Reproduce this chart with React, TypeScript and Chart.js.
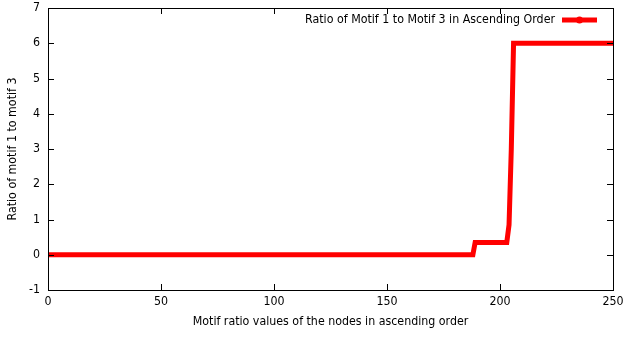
import React, { useEffect, useRef } from "react";
import { Chart, registerables } from "chart.js";

Chart.register(...registerables);

// Run-length description of the sorted ratios (value, number of nodes)
const runValues = [0, 0.35, 0.85, 3, 6];
const runLengths = [189, 15, 1, 1, 45];
const xTicks = [0, 50, 100, 150, 200, 250];
const yTicks = [-1, 0, 1, 2, 3, 4, 5, 6, 7];
const seriesLabel = "Ratio of Motif 1 to Motif 3 in Ascending Order";
const xTitle = "Motif ratio values of the nodes in ascending order";
const yTitle = "Ratio of motif 1 to motif 3";

const FONT = "'DejaVu Sans Condensed', 'DejaVu Sans', sans-serif";
const FS = 12.3;

function buildPoints() {
  const pts: { x: number; y: number }[] = [];
  let idx = 0;
  runValues.forEach((v, i) => {
    for (let k = 0; k < runLengths[i]; k++) {
      pts.push({ x: idx, y: v });
      idx++;
    }
  });
  return pts;
}

const framePlugin = {
  id: "frame",
  afterDraw(chart: any) {
    const { ctx, chartArea: a, scales } = chart;
    ctx.save();
    ctx.strokeStyle = "#000";
    ctx.lineWidth = 1;
    ctx.strokeRect(Math.round(a.left) + 0.5, Math.round(a.top) + 0.5, Math.round(a.right - a.left), Math.round(a.bottom - a.top));
    const tl = 6;
    ctx.beginPath();
    xTicks.forEach((t) => {
      const x = Math.round(scales.x.getPixelForValue(t)) + 0.5;
      ctx.moveTo(x, a.bottom);
      ctx.lineTo(x, a.bottom - tl);
      ctx.moveTo(x, a.top);
      ctx.lineTo(x, a.top + tl);
    });
    yTicks.forEach((t) => {
      const y = Math.round(scales.y.getPixelForValue(t)) + 0.5;
      ctx.moveTo(a.left, y);
      ctx.lineTo(a.left + tl, y);
      ctx.moveTo(a.right, y);
      ctx.lineTo(a.right - tl, y);
    });
    ctx.stroke();
    // legend
    ctx.font = `${FS}px ${FONT}`;
    ctx.fillStyle = "#000";
    ctx.textAlign = "right";
    ctx.textBaseline = "middle";
    const ly = 20;
    ctx.fillText(seriesLabel, 555, ly);
    ctx.strokeStyle = "#ff0000";
    ctx.lineWidth = 5;
    ctx.beginPath();
    ctx.moveTo(562, ly);
    ctx.lineTo(597, ly);
    ctx.stroke();
    ctx.fillStyle = "#ff0000";
    ctx.beginPath();
    ctx.arc(579.5, ly, 3.5, 0, Math.PI * 2);
    ctx.fill();
    ctx.restore();
  },
};

export default function App() {
  const ref = useRef<HTMLCanvasElement>(null);
  useEffect(() => {
    const chart = new Chart(ref.current!, {
      type: "line",
      data: {
        datasets: [
          {
            label: seriesLabel,
            data: buildPoints(),
            borderColor: "#ff0000",
            backgroundColor: "#ff0000",
            borderWidth: 5,
            pointRadius: 1.5,
            pointBorderWidth: 0,
            tension: 0,
          },
        ],
      },
      options: {
        animation: false,
        responsive: false,
        maintainAspectRatio: false,
        layout: { padding: { top: 8, right: 10, left: 0, bottom: 0 } },
        plugins: { legend: { display: false }, tooltip: { enabled: false } },
        scales: {
          x: {
            type: "linear",
            min: 0,
            max: 250,
            afterBuildTicks: (s: any) => {
              s.ticks = xTicks.map((v) => ({ value: v }));
            },
            afterFit: (s: any) => {
              s.height = 48;
              s.paddingLeft = 0;
              s.paddingRight = 0;
            },
            grid: { display: false, drawTicks: false },
            border: { display: false },
            ticks: { color: "#000", font: { family: FONT, size: FS }, padding: 4, maxRotation: 0 },
            title: {
              display: true,
              text: xTitle,
              color: "#000",
              font: { family: FONT, size: FS },
              padding: { top: 4, bottom: 9 },
            },
          },
          y: {
            type: "linear",
            min: -1,
            max: 7,
            afterBuildTicks: (s: any) => {
              s.ticks = yTicks.map((v) => ({ value: v }));
            },
            afterFit: (s: any) => {
              s.width = 48;
              s.paddingTop = 0;
              s.paddingBottom = 0;
            },
            grid: { display: false, drawTicks: false },
            border: { display: false },
            ticks: { color: "#000", font: { family: FONT, size: FS }, padding: 8 },
            title: {
              display: true,
              text: yTitle,
              color: "#000",
              font: { family: FONT, size: FS },
              padding: { top: 5, bottom: 4 },
            },
          },
        },
      },
      plugins: [framePlugin],
    });
    return () => chart.destroy();
  }, []);
  return (
    <div style={{ position: "fixed", left: 0, top: 0, width: 623, height: 338, background: "#fff" }}>
      <canvas ref={ref} width={623} height={338} style={{ width: 623, height: 338 }} />
    </div>
  );
}
